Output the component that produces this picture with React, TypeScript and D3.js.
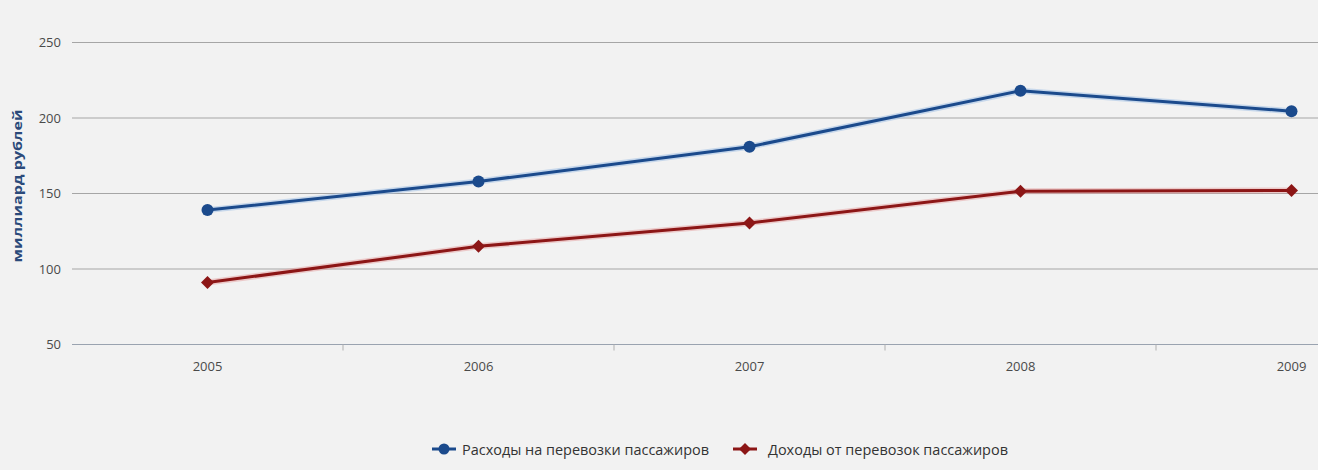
import React from "react";
import * as d3 from "d3";

const years = ["2005", "2006", "2007", "2008", "2009"];
const expenses = [139, 158, 181, 218, 204.5];
const revenues = [91, 115, 130.5, 151.5, 152];
const yTicks = [50, 100, 150, 200, 250];
const seriesNames = ["Расходы на перевозки пассажиров", "Доходы от перевозок пассажиров"];
const yTitle = "миллиард рублей";

const W = 1318;
const H = 470;
const FONT = "'Open Sans', 'DejaVu Sans', sans-serif";

export default function App() {
  const left = 72;
  const band = 271;
  const x = d3.scaleBand<string>().domain(years).range([left, left + band * years.length]).padding(0);
  const cx = (c: string) => (x(c) as number) + x.bandwidth() / 2;
  const y = d3.scaleLinear().domain([50, 250]).range([344.5, 42.5]);

  const line = d3.line<number>().x((_, i) => cx(years[i])).y((d) => y(d));

  const blue = "#1b4a8c";
  const red = "#8c1616";

  const diamond = (px: number, py: number, r: number) =>
    `M${px},${py - r}L${px + r},${py}L${px},${py + r}L${px - r},${py}Z`;

  return (
    <svg width={W} height={H} style={{ position: "fixed", left: 0, top: 0, background: "#f2f2f2" }}>
      <rect x={0} y={0} width={W} height={H} fill="#f2f2f2" />
      {yTicks.map((t) => (
        <g key={t}>
          <line x1={left} x2={W} y1={y(t)} y2={y(t)} stroke={t === 50 ? "#9aa3b0" : "#a6a6a6"} strokeWidth={1.2} />
          <text x={61} y={y(t) + 4.5} textAnchor="end" fontSize={13} fill="#4a4a4a" fontFamily={FONT}>
            {t}
          </text>
        </g>
      ))}
      {years.slice(1).map((c) => (
        <line key={c} x1={x(c) as number} x2={x(c) as number} y1={y(50)} y2={y(50) + 6} stroke="#b0b0b0" />
      ))}
      {years.map((c) => (
        <text key={c} x={cx(c)} y={371} textAnchor="middle" fontSize={13} fill="#4a4a4a" fontFamily={FONT}>
          {c}
        </text>
      ))}
      <text
        transform={`translate(22,${186}) rotate(-90)`}
        textAnchor="middle"
        fontSize={12}
        fontWeight="bold"
        fill="#2b4a7a"
        fontFamily={FONT}
        textLength={153}
        lengthAdjust="spacingAndGlyphs"
      >
        {yTitle}
      </text>

      <path d={line(expenses) as string} fill="none" stroke="#a8c4e6" strokeWidth={6} strokeOpacity={0.6} />
      <path d={line(expenses) as string} fill="none" stroke={blue} strokeWidth={3} />
      <path d={line(revenues) as string} fill="none" stroke="#e6a0a0" strokeWidth={6} strokeOpacity={0.5} />
      <path d={line(revenues) as string} fill="none" stroke={red} strokeWidth={3} />
      {expenses.map((v, i) => (
        <circle key={i} cx={cx(years[i])} cy={y(v)} r={6} fill={blue} />
      ))}
      {revenues.map((v, i) => (
        <path key={i} d={diamond(cx(years[i]), y(v), 6.5)} fill={red} />
      ))}

      <g>
        <line x1={432} x2={456} y1={449} y2={449} stroke={blue} strokeWidth={3} />
        <circle cx={444} cy={449} r={5.5} fill={blue} />
        <text x={462} y={455} fontSize={14} textLength={247} lengthAdjust="spacingAndGlyphs" fill="#333" fontFamily={FONT}>
          {seriesNames[0]}
        </text>
        <line x1={733} x2={757} y1={449} y2={449} stroke={red} strokeWidth={3} />
        <path d={diamond(745, 449, 6)} fill={red} />
        <text x={768} y={455} fontSize={14} textLength={240} lengthAdjust="spacingAndGlyphs" fill="#333" fontFamily={FONT}>
          {seriesNames[1]}
        </text>
      </g>
    </svg>
  );
}
